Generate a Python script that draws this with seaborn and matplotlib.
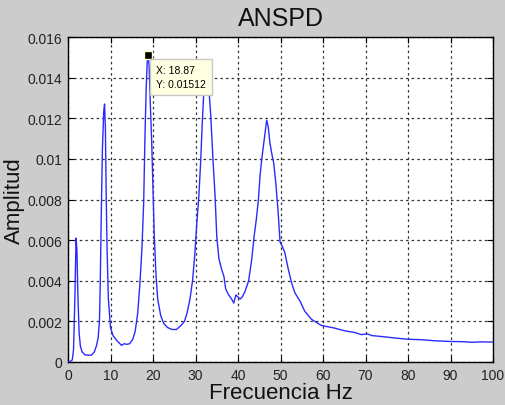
import matplotlib
matplotlib.use("Agg")
import matplotlib.pyplot as plt
import seaborn as sns
import pandas as pd

freq = [0, 0.5, 1.0, 1.3, 1.6, 1.9, 2.1, 2.3, 2.6, 2.9, 3.3, 4.0, 4.8, 5.6, 6.2, 6.7, 7.1, 7.4, 7.6, 7.8,
        8.1, 8.4, 8.6, 8.8, 9.0, 9.2, 9.5, 10.0, 10.6, 11.5, 12.6, 13.2, 13.8, 14.5, 15.2, 15.8, 16.4,
        16.9, 17.4, 17.8, 18.1, 18.4, 18.65, 18.87, 19.1, 19.4, 19.7, 20.0, 20.3, 20.7, 21.1, 21.8,
        22.5, 23.4, 24.5, 25.5, 26.6, 27.4, 28.0, 28.7, 29.3, 29.8, 30.3, 30.8, 31.2, 31.6, 32.0,
        32.4, 32.8, 33.2, 33.6, 34.1, 34.6, 35.0, 35.5, 36.1, 36.7, 37.1, 37.8, 38.5, 39.0, 39.5,
        40.0, 40.5, 41.0, 41.7, 42.5, 43.2, 43.8, 44.3, 44.8, 45.2, 45.6, 46.2, 46.75, 47.1, 47.5,
        48.0, 48.4, 48.9, 49.4, 49.9, 50.4, 51.0, 51.8, 52.6, 53.4, 54.6, 55.7, 57.3, 59.6, 62.7,
        65.0, 67.5, 69.0, 70.5, 71.5, 74.0, 77.0, 80.0, 83.0, 86.0, 90.0, 93.0, 95.0, 97.0, 100.0]
amp = [0, 0.00002, 0.0001, 0.0006, 0.003, 0.0061, 0.0055, 0.0035, 0.0015, 0.0008, 0.0005, 0.00035,
       0.00033, 0.00035, 0.0005, 0.0008, 0.0012, 0.002, 0.004, 0.0069, 0.0105, 0.0123, 0.0127, 0.0115,
       0.0080, 0.0055, 0.0031, 0.0017, 0.0013, 0.00105, 0.00082, 0.0009, 0.00087, 0.0009, 0.0011,
       0.0015, 0.0024, 0.0038, 0.0056, 0.0078, 0.011, 0.0135, 0.0148, 0.01512, 0.0145, 0.0125, 0.0108,
       0.0085, 0.0062, 0.0043, 0.0031, 0.0023, 0.0019, 0.0017, 0.0016, 0.0016, 0.0018, 0.0020, 0.0024,
       0.0031, 0.0040, 0.0052, 0.0068, 0.0082, 0.0098, 0.0118, 0.0135, 0.0145, 0.0142, 0.0133, 0.0121,
       0.0100, 0.0082, 0.0062, 0.0051, 0.0046, 0.0042, 0.0036, 0.0033, 0.0031, 0.0029, 0.0033, 0.0032,
       0.0031, 0.0032, 0.0035, 0.0040, 0.0050, 0.0062, 0.0070, 0.0080, 0.0092, 0.0100, 0.0110, 0.0119,
       0.0116, 0.0108, 0.0102, 0.0098, 0.0088, 0.0075, 0.0059, 0.0057, 0.0054, 0.0046, 0.0039, 0.0034,
       0.0030, 0.0025, 0.0021, 0.0018, 0.00167, 0.00154, 0.00145, 0.00135, 0.00138, 0.0013, 0.00125,
       0.00118, 0.00112, 0.0011, 0.00105, 0.00101, 0.001, 0.00097, 0.00099, 0.00098]

xticks = [0, 10, 20, 30, 40, 50, 60, 70, 80, 90, 100]
yticks = [0, 0.002, 0.004, 0.006, 0.008, 0.01, 0.012, 0.014, 0.016]
ytick_labels = ["0", "0.002", "0.004", "0.006", "0.008", "0.01", "0.012", "0.014", "0.016"]
tip_x = 18.87
tip_y = 0.01512

plt.rcParams['font.family'] = ['Liberation Sans', 'DejaVu Sans']

df = pd.DataFrame({"Frecuencia": freq, "Amplitud": amp})

fig = plt.figure(figsize=(5.05, 4.06), dpi=100, facecolor='#cccccc')
ax = fig.add_axes([68/505, 1 - 363/406, 425/505, 325/406])
ax.set_facecolor('white')

sns.lineplot(data=df, x="Frecuencia", y="Amplitud", ax=ax, color='#2a2aff', lw=1.0, sort=False, zorder=3)

ax.set_xlim(0, 100)
ax.set_ylim(0, 0.016)
ax.set_xticks(xticks)
ax.set_xticklabels([str(t) for t in xticks])
ax.set_yticks(yticks)
ax.set_yticklabels(ytick_labels)
ax.tick_params(direction='in', length=4, top=True, right=True, labelsize=10, colors='black',
               labelcolor='#222222', pad=4)
ax.grid(True, color='#333333', linestyle=(0, (2, 2.5)), lw=0.9)
for s in ax.spines.values():
    s.set_color('black')
    s.set_linewidth(1.0)

ax.set_title("ANSPD", fontsize=18, pad=9, color='#111111')
ax.set_xlabel("Frecuencia Hz", fontsize=16, labelpad=0, color='#111111')
ax.set_ylabel("Amplitud", fontsize=16, labelpad=2, color='#111111')

ax.plot([tip_x], [tip_y], marker='s', ms=6, color='black', mec='#ffffcc', mew=1, zorder=6, clip_on=False)
ax.annotate(f"X: {tip_x}\nY: {tip_y}", xy=(tip_x, tip_y), xytext=(8, -10), textcoords='offset pixels',
            ha='left', va='top', fontsize=7.5, linespacing=1.5, zorder=7,
            bbox=dict(boxstyle='square,pad=0.6', fc='#ffffe1', ec='#c8c8c8', lw=1))

fig.savefig("out.png", dpi=100, facecolor=fig.get_facecolor())
